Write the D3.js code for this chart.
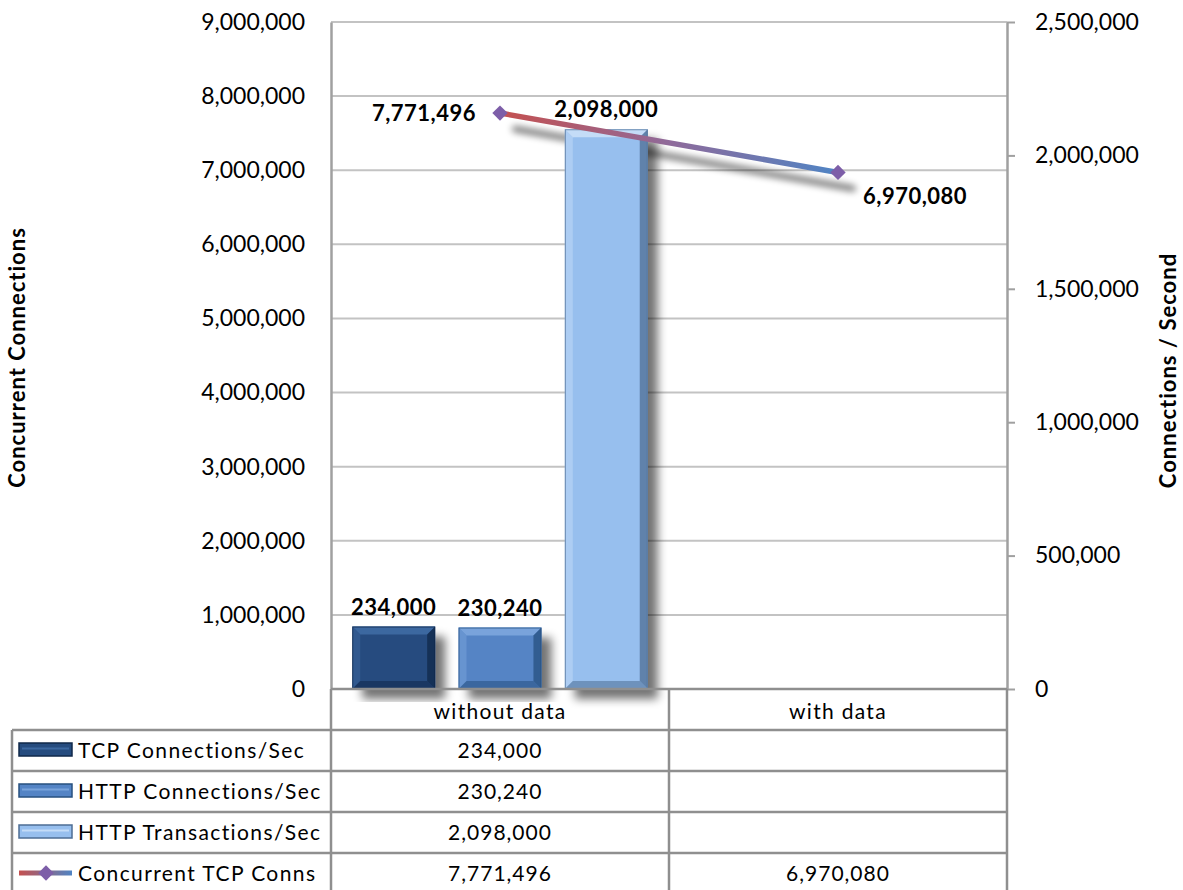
<!DOCTYPE html>
<html>
<head>
<meta charset="utf-8">
<script src="https://cdn.jsdelivr.net/npm/d3@7"></script>
<style>
  body { margin: 0; background: #fff; }
  svg { display: block; font-family: Lato, "Open Sans", sans-serif; }
</style>
</head>
<body>
<svg id="chart" width="1183" height="890"></svg>
<script>
const categories = ['without data', 'with data']
const barSeries = ['TCP Connections/Sec', 'HTTP Connections/Sec', 'HTTP Transactions/Sec']
const tcpConnsPerSec = [234000, null]
const httpConnsPerSec = [230240, null]
const httpTransPerSec = [2098000, null]
const lineSeries = 'Concurrent TCP Conns'
const concurrentTcp = [7771496, 6970080]

const barValues = [tcpConnsPerSec, httpConnsPerSec, httpTransPerSec]
const barColors = [
  { face: '#264c7f', light: '#3c68a0', dark: '#10284a' },
  { face: '#5484c5', light: '#79a3db', dark: '#27507f' },
  { face: '#97bfee', light: '#c4dcf7', dark: '#4d6d94' }
]

const fmt = d3.format(',')
const svg = d3.select('#chart')

const plot = { left: 331, right: 1007, top: 22, bottom: 689 }

const yLeft = d3.scaleLinear().domain([0, 9000000]).range([plot.bottom, plot.top])
const yRight = d3.scaleLinear().domain([0, 2500000]).range([plot.bottom, plot.top])
const x0 = d3.scaleBand().domain(categories).range([plot.left, plot.right])
const x1 = d3.scaleBand().domain(barSeries).range([0, x0.bandwidth()])
  .paddingInner(0.22).paddingOuter(0.2)

const defs = svg.append('defs')

// drop shadow kept together with the bar itself
const shadow = defs.append('filter').attr('id', 'barShadow')
  .attr('x', '-20%').attr('y', '-20%').attr('width', '160%').attr('height', '140%')
shadow.append('feGaussianBlur').attr('in', 'SourceAlpha').attr('stdDeviation', 5).attr('result', 'blur')
shadow.append('feOffset').attr('in', 'blur').attr('dx', 10).attr('dy', 10).attr('result', 'off')
shadow.append('feComponentTransfer').attr('in', 'off').attr('result', 'soft')
  .append('feFuncA').attr('type', 'linear').attr('slope', 0.55)
const merge = shadow.append('feMerge')
merge.append('feMergeNode').attr('in', 'soft')
merge.append('feMergeNode').attr('in', 'SourceGraphic')

const lineShadow = defs.append('filter').attr('id', 'lineShadow')
  .attr('x', '-10%').attr('y', '-50%').attr('width', '120%').attr('height', '300%')
lineShadow.append('feGaussianBlur').attr('in', 'SourceAlpha').attr('stdDeviation', 3.5)
lineShadow.append('feOffset').attr('dx', 15).attr('dy', 16)
lineShadow.append('feComponentTransfer').append('feFuncA').attr('type', 'linear').attr('slope', 0.55)

const lineGrad = defs.append('linearGradient').attr('id', 'lineGrad')
  .attr('gradientUnits', 'userSpaceOnUse')
  .attr('x1', x0(categories[0]) + x0.bandwidth() / 2).attr('x2', x0(categories[1]) + x0.bandwidth() / 2)
  .attr('y1', 0).attr('y2', 0)
lineGrad.append('stop').attr('offset', '0%').attr('stop-color', '#c5504f')
lineGrad.append('stop').attr('offset', '50%').attr('stop-color', '#8f6a9a')
lineGrad.append('stop').attr('offset', '100%').attr('stop-color', '#4f84c4')

const keyGrad = defs.append('linearGradient').attr('id', 'keyGrad')
  .attr('gradientUnits', 'userSpaceOnUse')
  .attr('x1', 19).attr('x2', 72).attr('y1', 0).attr('y2', 0)
keyGrad.append('stop').attr('offset', '0%').attr('stop-color', '#c5504f')
keyGrad.append('stop').attr('offset', '100%').attr('stop-color', '#4f84c4')

// gridlines
svg.append('g')
  .selectAll('line')
  .data(yLeft.ticks(9))
  .enter()
  .append('line')
    .attr('x1', plot.left).attr('x2', plot.right)
    .attr('y1', d => yLeft(d)).attr('y2', d => yLeft(d))
    .style('stroke', '#c3c3c3')
    .style('stroke-width', 2)

// left axis
const leftAxis = svg.append('g')
  .attr('transform', `translate(${plot.left},0)`)
  .call(d3.axisLeft(yLeft).ticks(9).tickFormat(fmt).tickSize(0).tickPadding(26))
leftAxis.select('.domain').style('stroke', '#a0a0a0').style('stroke-width', 2.5)
leftAxis.selectAll('text').style('font-size', '23px').style('font-family', 'Lato').style('fill', '#000')

// right axis
const rightAxis = svg.append('g')
  .attr('transform', `translate(${plot.right},0)`)
  .call(d3.axisRight(yRight).ticks(5).tickFormat(fmt).tickSizeInner(8).tickSizeOuter(0).tickPadding(20))
rightAxis.select('.domain').style('stroke', '#a0a0a0').style('stroke-width', 2.5)
rightAxis.selectAll('.tick line').style('stroke', '#a0a0a0').style('stroke-width', 2)
rightAxis.selectAll('text').style('font-size', '23px').style('font-family', 'Lato').style('fill', '#000')

// axis titles
svg.append('text')
  .attr('transform', `translate(25, ${(plot.top + plot.bottom) / 2 + 2}) rotate(-90)`)
  .style('text-anchor', 'middle')
  .style('font-size', '22px')
  .style('font-weight', 700)
  .style('letter-spacing', '1px')
  .text('Concurrent Connections')

svg.append('text')
  .attr('transform', `translate(1176, ${(plot.top + plot.bottom) / 2 + 15}) rotate(-90)`)
  .style('text-anchor', 'middle')
  .style('font-size', '22px')
  .style('font-weight', 700)
  .style('letter-spacing', '1px')
  .text('Connections / Second')

// line shadow, under the bars
const lineGen = d3.line()
  .x((d, i) => x0(categories[i]) + x0.bandwidth() / 2)
  .y(d => yLeft(d))

svg.append('path')
  .datum(concurrentTcp)
  .attr('d', lineGen)
  .style('fill', 'none')
  .style('stroke', '#000')
  .style('stroke-width', 6)
  .style('stroke-linecap', 'round')
  .attr('filter', 'url(#lineShadow)')

// bars
const bars = []
barSeries.forEach((s, si) => {
  categories.forEach((c, ci) => {
    const v = barValues[si][ci]
    if (v == null) return
    bars.push({ series: s, si, cat: c, value: v })
  })
})

const barNodes = svg.append('g')
  .selectAll('g.bar')
  .data(bars)
  .enter()
  .append('g')
    .attr('class', 'bar')

function bevelParts(d) {
  const x = x0(d.cat) + x1(d.series)
  const w = x1.bandwidth()
  const y = yRight(d.value)
  const h = plot.bottom - y
  const b = Math.min(8, h / 3)
  return { x, y, w, h, b }
}

barNodes.append('rect')
  .attr('x', d => bevelParts(d).x)
  .attr('y', d => bevelParts(d).y)
  .attr('width', d => bevelParts(d).w)
  .attr('height', d => bevelParts(d).h)
  .style('fill', d => barColors[d.si].face)
  .attr('filter', 'url(#barShadow)')

// top bevel
barNodes.append('polygon')
  .attr('points', d => {
    const p = bevelParts(d)
    return [[p.x, p.y], [p.x + p.w, p.y], [p.x + p.w - p.b, p.y + p.b], [p.x + p.b, p.y + p.b]].join(' ')
  })
  .style('fill', d => barColors[d.si].light)
// left bevel
barNodes.append('polygon')
  .attr('points', d => {
    const p = bevelParts(d)
    return [[p.x, p.y], [p.x + p.b, p.y + p.b], [p.x + p.b, p.y + p.h - p.b], [p.x, p.y + p.h]].join(' ')
  })
  .style('fill', d => barColors[d.si].light)
  .style('opacity', 0.5)
// right bevel
barNodes.append('polygon')
  .attr('points', d => {
    const p = bevelParts(d)
    return [[p.x + p.w, p.y], [p.x + p.w, p.y + p.h], [p.x + p.w - p.b, p.y + p.h - p.b], [p.x + p.w - p.b, p.y + p.b]].join(' ')
  })
  .style('fill', d => barColors[d.si].dark)
  .style('opacity', 0.75)
// bottom bevel
barNodes.append('polygon')
  .attr('points', d => {
    const p = bevelParts(d)
    return [[p.x, p.y + p.h], [p.x + p.b, p.y + p.h - p.b], [p.x + p.w - p.b, p.y + p.h - p.b], [p.x + p.w, p.y + p.h]].join(' ')
  })
  .style('fill', d => barColors[d.si].dark)
  .style('opacity', 0.55)
// outline
barNodes.append('rect')
  .attr('x', d => bevelParts(d).x + 0.5)
  .attr('y', d => bevelParts(d).y + 0.5)
  .attr('width', d => bevelParts(d).w - 1)
  .attr('height', d => bevelParts(d).h - 1)
  .style('fill', 'none')
  .style('stroke', d => barColors[d.si].dark)
  .style('stroke-opacity', 0.7)

// bar labels
barNodes.append('text')
  .attr('x', d => bevelParts(d).x + x1.bandwidth() / 2)
  .attr('y', d => bevelParts(d).y - 12)
  .style('text-anchor', 'middle')
  .style('font-size', '22px')
  .style('font-weight', 700)
  .style('letter-spacing', '0.5px')
  .text(d => fmt(d.value))

// line
svg.append('path')
  .datum(concurrentTcp)
  .attr('d', lineGen)
  .style('fill', 'none')
  .style('stroke', 'url(#lineGrad)')
  .style('stroke-width', 5.5)

const diamond = d3.symbol().type(d3.symbolDiamond2).size(150)

svg.append('g')
  .selectAll('path')
  .data(concurrentTcp)
  .enter()
  .append('path')
    .attr('d', diamond)
    .attr('transform', (d, i) => `translate(${x0(categories[i]) + x0.bandwidth() / 2},${yLeft(d)})`)
    .style('fill', '#7d5ea8')

svg.append('g')
  .selectAll('text')
  .data(concurrentTcp)
  .enter()
  .append('text')
    .attr('x', (d, i) => x0(categories[i]) + x0.bandwidth() / 2 + (i === 0 ? -24 : 25))
    .attr('y', (d, i) => yLeft(d) + (i === 0 ? 8 : 32))
    .style('text-anchor', (d, i) => i === 0 ? 'end' : 'start')
    .style('font-size', '22px')
    .style('font-weight', 700)
    .style('letter-spacing', '0.5px')
    .text(d => fmt(d))

// data table
const rowTop = plot.bottom
const headerH = 41
const rowH = 41
const tableLeft = 12
const rows = barSeries.map((s, si) => ({ name: s, type: 'bar', si, values: barValues[si] }))
rows.push({ name: lineSeries, type: 'line', values: concurrentTcp })

const table = svg.append('g')
const gridStroke = '#8f8f8f'

// vertical lines
table.selectAll('line.v')
  .data([plot.left, x0(categories[1]), plot.right])
  .enter()
  .append('line')
    .attr('x1', d => d).attr('x2', d => d)
    .attr('y1', rowTop).attr('y2', 890)
    .style('stroke', gridStroke).style('stroke-width', 2.5)

table.append('line')
  .attr('x1', tableLeft).attr('x2', tableLeft)
  .attr('y1', rowTop + headerH).attr('y2', 890)
  .style('stroke', gridStroke).style('stroke-width', 2.5)

table.selectAll('line.h')
  .data(rows)
  .enter()
  .append('line')
    .attr('x1', tableLeft).attr('x2', plot.right)
    .attr('y1', (d, i) => rowTop + headerH + i * rowH)
    .attr('y2', (d, i) => rowTop + headerH + i * rowH)
    .style('stroke', gridStroke).style('stroke-width', 2.5)

table.append('line')
  .attr('x1', plot.left).attr('x2', plot.right)
  .attr('y1', rowTop).attr('y2', rowTop)
  .style('stroke', gridStroke).style('stroke-width', 2.5)

// header
table.selectAll('text.cat')
  .data(categories)
  .enter()
  .append('text')
    .attr('x', d => x0(d) + x0.bandwidth() / 2)
    .attr('y', rowTop + 30)
    .style('text-anchor', 'middle')
    .style('font-size', '21px')
    .style('letter-spacing', '1.3px')
    .text(d => d)

const rowG = table.selectAll('g.row')
  .data(rows)
  .enter()
  .append('g')
    .attr('transform', (d, i) => `translate(0, ${rowTop + headerH + i * rowH})`)

rowG.append('text')
  .attr('x', 78)
  .attr('y', 28)
  .style('font-size', '21px')
  .style('letter-spacing', '1.4px')
  .text(d => d.name)

rowG.each(function (d) {
  const g = d3.select(this)
  if (d.type === 'bar') {
    const c = barColors[d.si]
    g.append('rect').attr('x', 19).attr('y', 13).attr('width', 53).attr('height', 13)
      .style('fill', c.face).style('stroke', c.dark).style('stroke-width', 1.5)
    g.append('line').attr('x1', 22).attr('x2', 69).attr('y1', 18.5).attr('y2', 18.5)
      .style('stroke', c.light).style('stroke-width', 2)
  } else {
    g.append('line').attr('x1', 19).attr('x2', 72).attr('y1', 20).attr('y2', 20)
      .style('stroke', 'url(#keyGrad)').style('stroke-width', 5)
    g.append('path').attr('d', diamond).attr('transform', 'translate(46,20)').style('fill', '#7d5ea8')
  }
  g.selectAll('text.val')
    .data(d.values)
    .enter()
    .append('text')
      .attr('x', (v, i) => x0(categories[i]) + x0.bandwidth() / 2)
      .attr('y', 28)
      .style('text-anchor', 'middle')
      .style('font-size', '21px')
      .style('letter-spacing', '1px')
      .text(v => v == null ? '' : fmt(v))
})
</script>
</body>
</html>
